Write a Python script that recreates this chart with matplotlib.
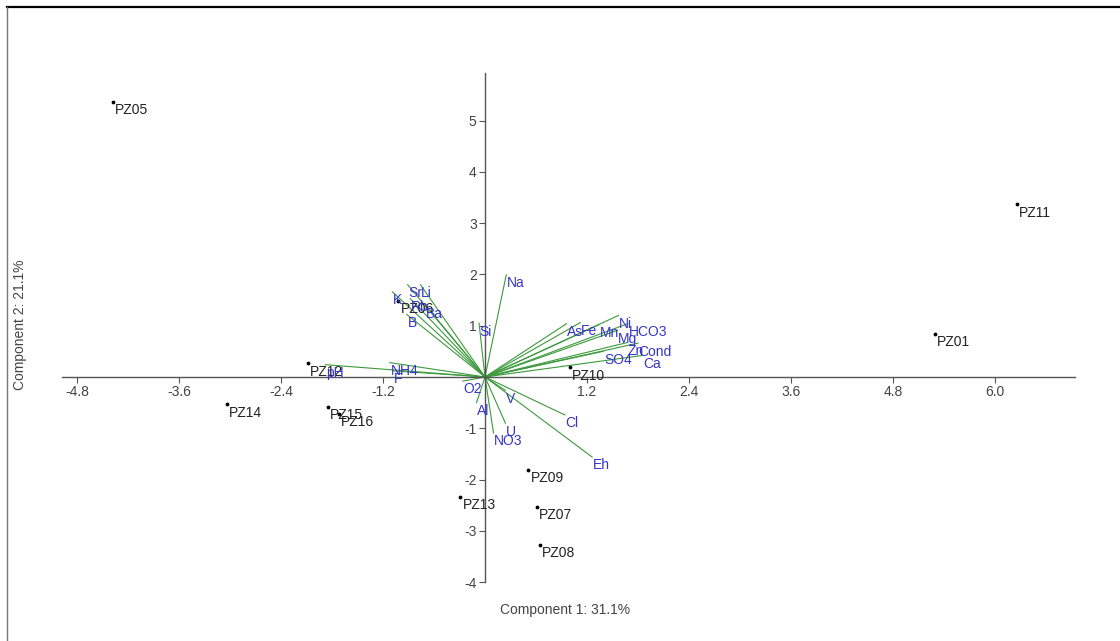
import matplotlib
matplotlib.use("Agg")
import matplotlib.pyplot as plt
from matplotlib.lines import Line2D

plt.rcParams['font.family'] = ['Liberation Sans', 'DejaVu Sans']

# Sample scores (Component 1, Component 2)
samples = ["PZ05", "PZ11", "PZ01", "PZ10", "PZ12", "PZ14", "PZ15", "PZ16",
           "PZ13", "PZ09", "PZ07", "PZ08", "PZ06"]
sample_x = [-4.38, 6.26, 5.29, 1.00, -2.08, -3.04, -1.85, -1.72,
            -0.29, 0.51, 0.61, 0.65, -1.02]
sample_y = [5.36, 3.37, 0.84, 0.19, 0.27, -0.53, -0.58, -0.72,
            -2.34, -1.81, -2.53, -3.27, 1.48]

# Variable loadings (scaled)
variables = ["Na", "Sr", "Li", "K", "Rb", "Ba", "B", "Si",
             "As", "Fe", "Mn", "Ni", "HCO3", "Mg", "Zn", "Cond", "SO4", "Ca",
             "V", "Cl", "Eh", "U", "NO3", "Al", "O2", "NH4", "F", "pH"]
var_x = [0.25, -0.91, -0.76, -1.09, -0.88, -0.70, -0.92, -0.07,
         0.96, 1.12, 1.34, 1.57, 1.68, 1.56, 1.67, 1.80, 1.39, 1.85,
         0.24, 0.94, 1.26, 0.24, 0.10, -0.10, -0.26, -1.12, -1.08, -1.88]
var_y = [1.99, 1.80, 1.80, 1.66, 1.53, 1.40, 1.22, 1.05,
         1.04, 1.06, 1.02, 1.20, 1.04, 0.91, 0.67, 0.66, 0.50, 0.42,
         -0.26, -0.74, -1.56, -0.90, -1.09, -0.50, -0.08, 0.28, 0.12, 0.24]

xticks = [-4.8, -3.6, -2.4, -1.2, 1.2, 2.4, 3.6, 4.8, 6.0]
xticklabels = ["-4.8", "-3.6", "-2.4", "-1.2", "1.2", "2.4", "3.6", "4.8", "6.0"]
yticks = [-4, -3, -2, -1, 1, 2, 3, 4, 5]
yticklabels = ["-4", "-3", "-2", "-1", "1", "2", "3", "4", "5"]

W, H = 1120, 641
fig = plt.figure(figsize=(W / 100, H / 100), dpi=100)
fig.patch.set_facecolor("white")

# axes placement in pixels (origin at x=485, y=377; 85 px/unit in x, 51.3 px/unit in y)
ox, oy, sx, sy = 485.0, 377.0, 85.0, 51.3
left_px, right_px, top_px, bot_px = 20, 1110, 20, 630
ax = fig.add_axes([left_px / W, (H - bot_px) / H, (right_px - left_px) / W, (bot_px - top_px) / H])
ax.set_xlim((left_px - ox) / sx, (right_px - ox) / sx)
ax.set_ylim((oy - bot_px) / sy, (oy - top_px) / sy)
ax.patch.set_alpha(0)

for s in ["top", "right"]:
    ax.spines[s].set_visible(False)
ax.spines["left"].set_position(("data", 0))
ax.spines["bottom"].set_position(("data", 0))
ax.spines["bottom"].set_bounds(-4.98, 6.94)
ax.spines["left"].set_bounds(-4.0, 5.93)
for s in ["left", "bottom"]:
    ax.spines[s].set_color("#555555")
    ax.spines[s].set_linewidth(1.0)

ax.set_xticks(xticks)
ax.set_xticklabels(xticklabels)
ax.set_yticks(yticks)
ax.set_yticklabels(yticklabels)
ax.tick_params(axis="both", colors="#555555", labelcolor="#444444", labelsize=10,
               length=4, width=0.8, direction="out", pad=2)

# vectors
for name, vx, vy in zip(variables, var_x, var_y):
    ax.plot([0, vx], [0, vy], color="#3c9a3c", lw=0.8, zorder=2)
    ax.annotate(name, (vx, vy), xytext=(0.5, -1.0), textcoords="offset points",
                ha="left", va="top", fontsize=10, color="#3535c8", zorder=4)

# samples
ax.scatter(sample_x, sample_y, s=3, color="black", zorder=3)
for name, px, py in zip(samples, sample_x, sample_y):
    ax.annotate(name, (px, py), xytext=(1.5, -1.0), textcoords="offset points",
                ha="left", va="top", fontsize=10, color="#222222", zorder=3)

fig.text(565 / W, 1 - 610 / H, "Component 1: 31.1%", ha="center", va="center",
         fontsize=10, color="#444444")
fig.text(20 / W, 1 - 325 / H, "Component 2: 21.1%", ha="center", va="center",
         rotation=90, fontsize=10, color="#444444")

# frame lines
fig.add_artist(Line2D([7 / W, 1], [1 - 7 / H, 1 - 7 / H], transform=fig.transFigure,
                      color="black", lw=1.6))
fig.add_artist(Line2D([7 / W, 7 / W], [0, 1 - 7 / H], transform=fig.transFigure,
                      color="#777777", lw=1.0))

fig.savefig("out.png", dpi=100)
